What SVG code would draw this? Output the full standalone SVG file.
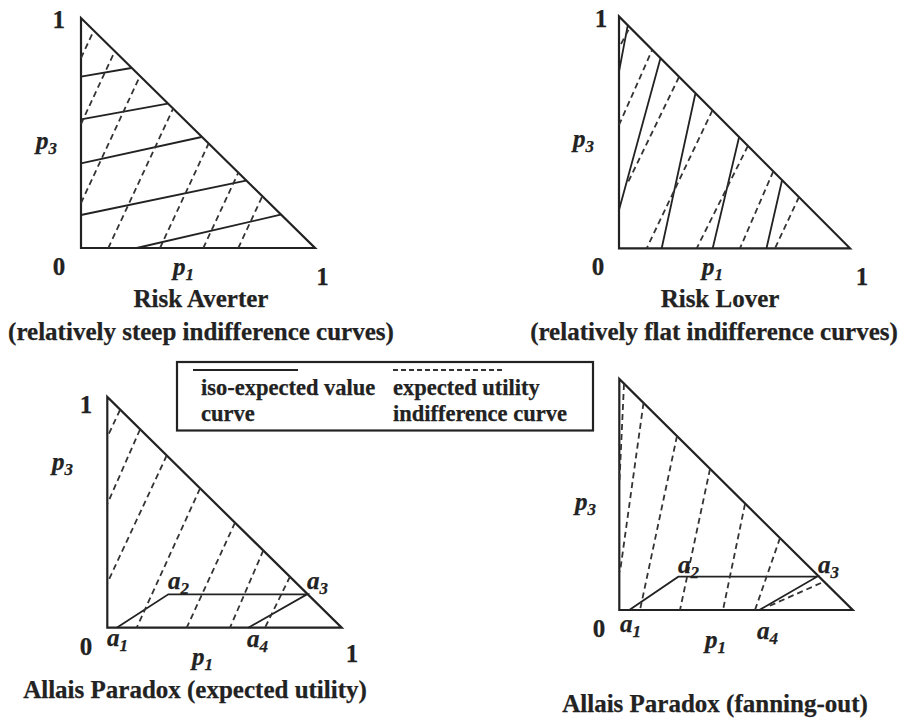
<svg xmlns="http://www.w3.org/2000/svg" width="907" height="722" viewBox="0 0 907 722">
<style>
  text { font-family: "Liberation Serif", "Times New Roman", serif; font-weight: bold; fill: #222; stroke: #222; stroke-width: 0.25; }
  .cap { font-size: 25px; }
  .num { font-size: 25px; }
  .var { font-size: 25px; font-style: italic; }
  .sub { font-size: 17px; font-style: italic; }
  .leg { font-size: 22.5px; }
  .tri { fill: none; stroke: #222; stroke-width: 2.2; stroke-linejoin: miter; }
  .iso { fill: none; stroke: #222; stroke-width: 1.8; }
  .eu  { fill: none; stroke: #333; stroke-width: 1.8; stroke-dasharray: 6 4; }
</style>
<rect width="907" height="722" fill="#fff"/>

<!-- Panel 1: Risk Averter -->
<g id="risk-averter">
  <path class="tri" d="M81,18 L81,248 L315,248 Z"/>
  <g class="connectors">
    <path class="iso" d="M81,76.7 L131.3,68 M81,119.3 L167.7,103.7 M81,163.3 L201.6,137 M81,215 L246,180.7 M136.7,248 L280.7,214.7"/>
    <path class="eu" d="M81,58 L93.8,30.6 M81,124 L114.8,51.2 M81,203 L140,76 M108.3,248 L173.1,108.6 M160,248 L208.6,143.5 M203.3,248 L238.3,172.7 M238.3,248 L262.3,196.3"/>
  </g>
  <text class="num" x="65" y="28" text-anchor="end">1</text>
  <text class="var" x="36" y="149">p<tspan class="sub" dy="5">3</tspan></text>
  <text class="num" x="59" y="275" text-anchor="middle">0</text>
  <text class="var" x="173" y="275">p<tspan class="sub" dy="5">1</tspan></text>
  <text class="num" x="322.5" y="285" text-anchor="middle">1</text>
  <text class="cap" x="201" y="307" text-anchor="middle">Risk Averter</text>
  <text class="cap" x="201" y="340" text-anchor="middle">(relatively steep indifference curves)</text>
</g>

<!-- Panel 2: Risk Lover -->
<g id="risk-lover">
  <path class="tri" d="M619,16.5 L619,248.3 L850,248.3 Z"/>
  <g class="connectors">
    <path class="iso" d="M619,71.7 L627.7,25.7 M619,210 L660.4,58.4 M661.7,248.3 L695.3,94 M712.7,248.3 L739,137.5 M766.5,248.3 L782,180.5"/>
    <path class="eu" d="M621,44 L630,27 M619,125 L652.1,50.1 M679,77 L628.3,181.7 M712.4,110.4 L646.7,248.3 M747.9,145.9 L696.7,248.3 M773.3,171.3 L740,248.3 M799,197 L775,248.3"/>
  </g>
  <text class="num" x="601" y="27" text-anchor="middle">1</text>
  <text class="var" x="573" y="147">p<tspan class="sub" dy="5">3</tspan></text>
  <text class="num" x="598" y="275" text-anchor="middle">0</text>
  <text class="var" x="702" y="275">p<tspan class="sub" dy="5">1</tspan></text>
  <text class="num" x="862" y="285" text-anchor="middle">1</text>
  <text class="cap" x="720" y="307" text-anchor="middle">Risk Lover</text>
  <text class="cap" x="714" y="340" text-anchor="middle">(relatively flat indifference curves)</text>
</g>

<!-- Legend -->
<g id="legend">
  <rect x="177" y="362" width="416" height="68.5" fill="#fff" stroke="#222" stroke-width="2.2"/>
  <line class="iso" x1="193" y1="370" x2="298" y2="370"/>
  <line class="eu" x1="393" y1="370" x2="503" y2="370" style="stroke-dasharray:5 3"/>
  <text class="leg" x="201" y="395">iso-expected value</text>
  <text class="leg" x="201" y="421">curve</text>
  <text class="leg" x="393" y="395">expected utility</text>
  <text class="leg" x="393" y="421">indifference curve</text>
</g>

<!-- Panel 3: Allais Paradox (expected utility) -->
<g id="allais-eu">
  <path class="tri" d="M107.3,397 L107.3,627.7 L341.7,627.7 Z"/>
  <g class="connectors">
    <path class="iso" d="M116.7,627.7 L168.3,594.3 L307,594.3 L248.3,627.7"/>
    <path class="eu" d="M120,410 L107.3,437 M140,429.5 L107.3,504 M166.7,455.5 L107.3,583 M200,488.5 L136.7,627.7 M235,522.7 L186.7,627.7 M263.3,550.4 L230,627.7 M290,576.6 L265,627.7"/>
  </g>
  <text class="num" x="86" y="413" text-anchor="middle">1</text>
  <text class="var" x="52" y="470">p<tspan class="sub" dy="5">3</tspan></text>
  <text class="num" x="86" y="655" text-anchor="middle">0</text>
  <text class="var" x="107" y="646">a<tspan class="sub" dy="5">1</tspan></text>
  <text class="var" x="192" y="665">p<tspan class="sub" dy="5">1</tspan></text>
  <text class="var" x="247" y="647">a<tspan class="sub" dy="5">4</tspan></text>
  <text class="num" x="352" y="662" text-anchor="middle">1</text>
  <text class="var" x="168" y="589">a<tspan class="sub" dy="5">2</tspan></text>
  <text class="var" x="307" y="589">a<tspan class="sub" dy="5">3</tspan></text>
  <text class="cap" x="195" y="698" text-anchor="middle">Allais Paradox (expected utility)</text>
</g>

<!-- Panel 4: Allais Paradox (fanning-out) -->
<g id="allais-fanning">
  <path class="tri" d="M619.3,379 L619.3,610 L852.7,610 Z"/>
  <g class="connectors">
    <path class="iso" d="M629.3,610 L678.3,576.7 L817,576.7 L759.3,610"/>
    <path class="eu" d="M624,384 L619.5,480 M643.5,403 L620,572 M677,436 L640,610 M710,469 L680,610 M745,504 L723,610 M780,538 L755,610 M821,583 L767,607"/>
  </g>
  <text class="var" x="575" y="510">p<tspan class="sub" dy="5">3</tspan></text>
  <text class="num" x="599" y="637" text-anchor="middle">0</text>
  <text class="var" x="620" y="632">a<tspan class="sub" dy="5">1</tspan></text>
  <text class="var" x="705" y="648">p<tspan class="sub" dy="5">1</tspan></text>
  <text class="var" x="757" y="639">a<tspan class="sub" dy="5">4</tspan></text>
  <text class="var" x="678" y="573">a<tspan class="sub" dy="5">2</tspan></text>
  <text class="var" x="818" y="573">a<tspan class="sub" dy="5">3</tspan></text>
  <text class="cap" x="715" y="712" text-anchor="middle">Allais Paradox (fanning-out)</text>
</g>
</svg>
